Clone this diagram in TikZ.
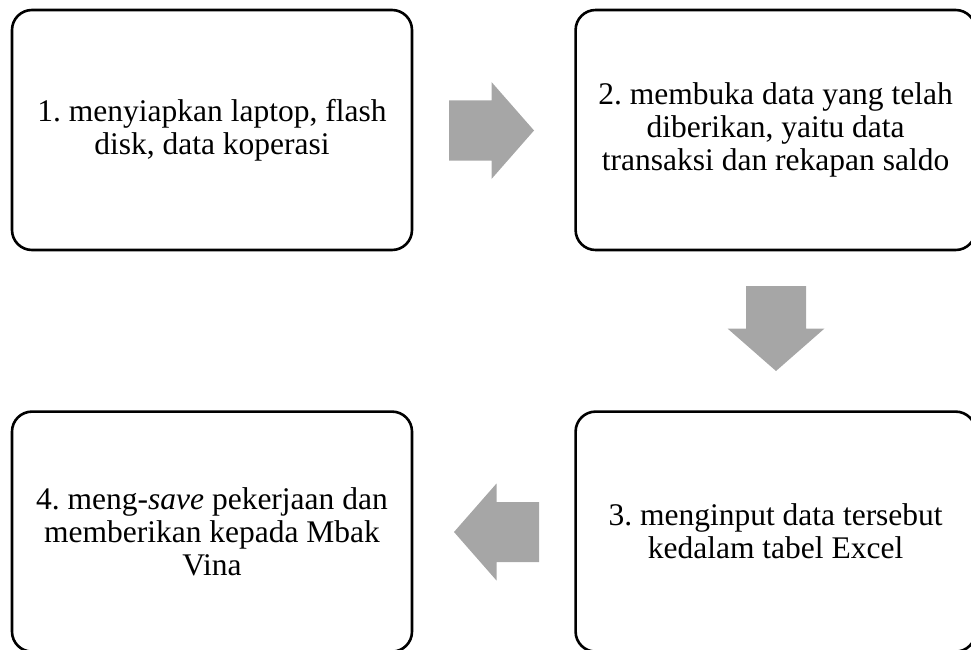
\documentclass[tikz,border=0pt]{standalone}
\usepackage{fontspec}
\setmainfont{Liberation Serif}
\usetikzlibrary{positioning}
\definecolor{arrowgray}{HTML}{A6A6A6}
\tikzset{
  stepbox/.style={draw, line width=2.6pt, rounded corners=20pt,
    minimum width=400pt, minimum height=240pt, align=center,
    font=\fontsize{31.5}{33}\selectfont\frenchspacing},
  blockarrow/.pic={\fill[arrowgray] (-42.5,-30) -- (0,-30) -- (0,-48.5) -- (42.5,0)
    -- (0,48.5) -- (0,30) -- (-42.5,30) -- cycle;}
}
\begin{document}
\begin{tikzpicture}[x=1pt, y=-1pt]
\useasboundingbox (0,0) rectangle (971,650);
\node[stepbox](s1) at (212,130) {1. menyiapkan laptop, flash\\disk, data koperasi};
\node[stepbox](s2) [right=161pt of s1] {2. membuka data yang telah\\diberikan, yaitu data\\transaksi dan rekapan saldo};
\node[stepbox](s3) [below=159pt of s2] {3. menginput data tersebut\\kedalam tabel Excel};
\node[stepbox](s4) [left=161pt of s3] {4. meng-\textit{save} pekerjaan dan\\memberikan kepada Mbak\\Vina};
\pic at (491.5,130.5) {blockarrow};
\pic[rotate=-90] at (776,328.5) {blockarrow};
\pic[rotate=180] at (496.5,532) {blockarrow};
\end{tikzpicture}
\end{document}
